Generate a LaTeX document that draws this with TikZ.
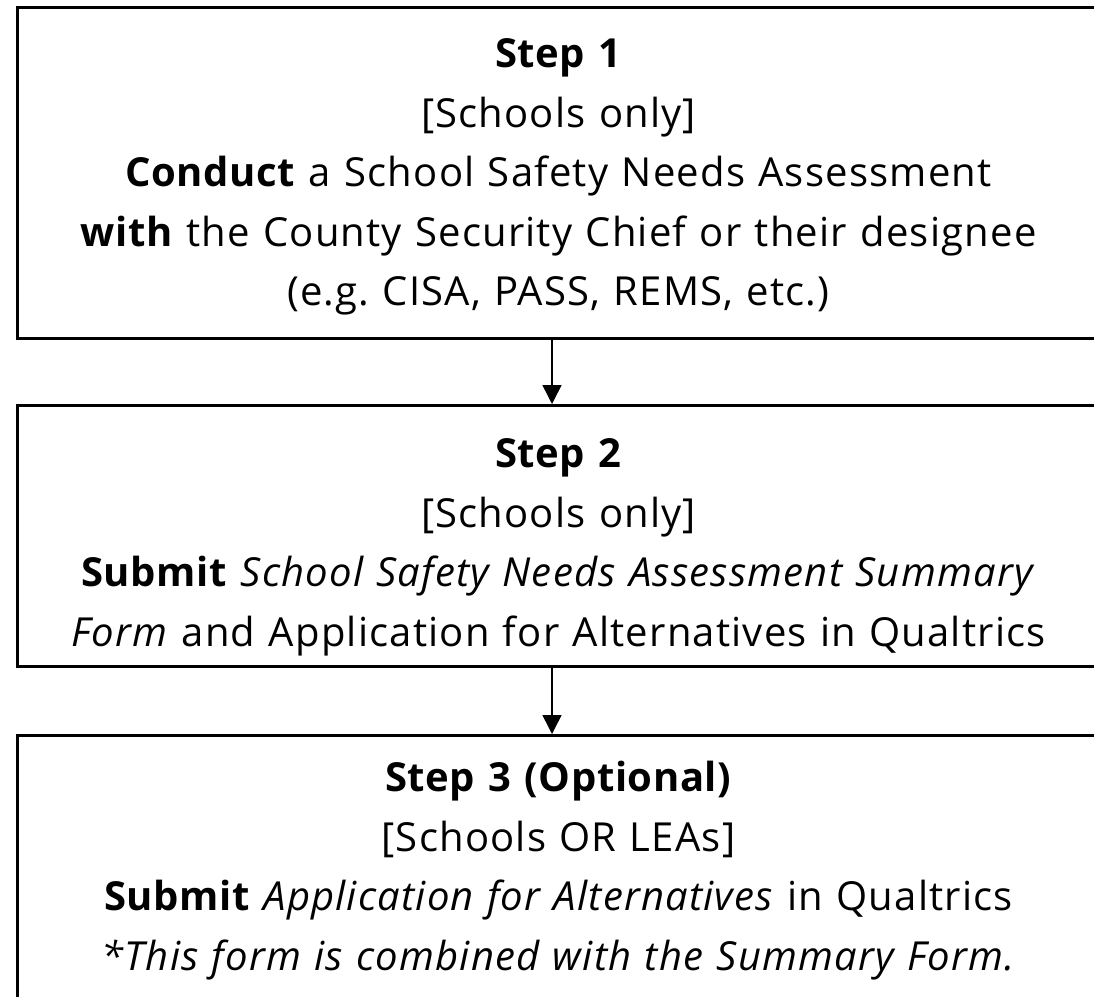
\documentclass[tikz,border=0pt]{standalone}
\usepackage{fontspec}
\setmainfont[LetterSpace=3,WordSpace=1.5,BoldFeatures={LetterSpace=1.5}]{Open Sans}
\usetikzlibrary{positioning,arrows.meta}
\frenchspacing

\begin{document}
\begin{tikzpicture}[x=1pt,y=1pt,
            stepbox/.style={draw=black, line width=3pt, minimum width=1083pt, text width=1080pt,
                align=center, inner xsep=0pt, inner ysep=0pt, anchor=north,
                font=\fontsize{40}{59.5}\selectfont},
            flow/.style={line width=1.5pt, -{Triangle[length=19pt,width=19pt]}}]
            \useasboundingbox (0,0) rectangle (1094,-996);
            \clip (0,0) rectangle (1094,-996);
            \node [stepbox, text height=60pt, text depth=271pt] (step1) at (558.5,-6)
                {\textbf{Step 1}\\ {[}Schools only{]}\\
                 \textbf{Conduct} a School Safety Needs Assessment\\
                 \textbf{with} the County Security Chief or their designee\\
                 (e.g. CISA, PASS, REMS, etc.)};
            \node [stepbox, text height=62pt, text depth=199pt] (step2) at (558.5,-404)
                {\textbf{Step 2}\\ {[}Schools only{]}\\
                 \textbf{Submit} \textit{School Safety Needs Assessment Summary}\\
                 \textit{Form} and Application for Alternatives in Qualtrics};
            \node [stepbox, text height=56pt, text depth=300pt] (step3) at (558.5,-734)
                {\textbf{Step 3 (Optional)}\\ {[}Schools OR LEAs{]}\\
                 \textbf{Submit} \textit{Application for Alternatives} in Qualtrics\\
                 \textit{*This form is combined with the Summary Form.}};
            \draw [flow] ([xshift=-6.5pt]step1.south) -- ([xshift=-6.5pt]step2.north);
            \draw [flow] ([xshift=-6.5pt]step2.south) -- ([xshift=-6.5pt]step3.north);
\end{tikzpicture}
\end{document}
